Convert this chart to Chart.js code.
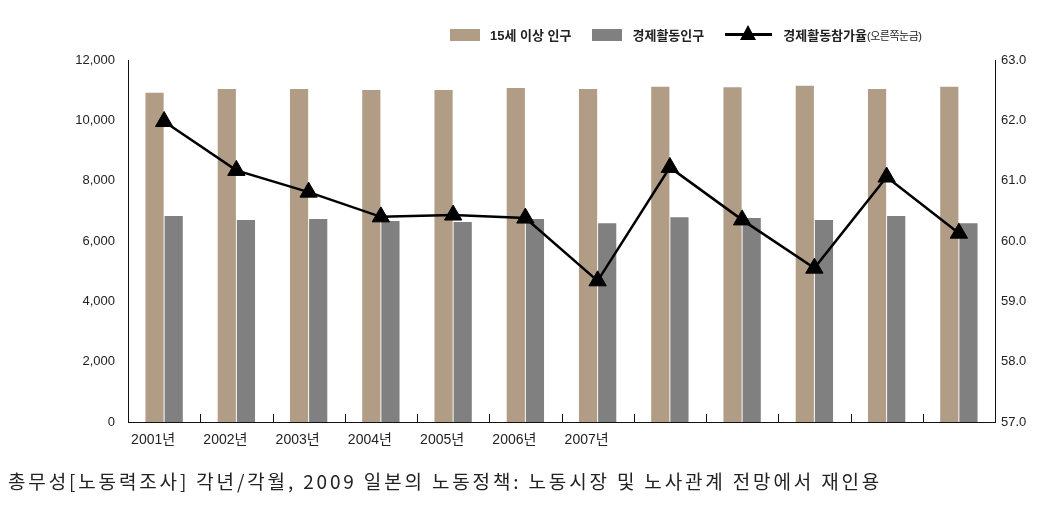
<!DOCTYPE html>
<html>
<head>
<meta charset="utf-8">
<script src="https://cdn.jsdelivr.net/npm/chart.js@4.4.0/dist/chart.umd.min.js"></script>
<style>
body { margin: 0; background: #fff; }
#wrap { position: relative; width: 1045px; height: 505px; }
#legend { position: absolute; top: 25px; left: 450px; display: flex; align-items: center;
  font: bold 13px "Liberation Sans", "Noto Sans CJK KR"; color: #222; }
#legend .box { width: 30px; height: 12px; margin-right: 10px; }
#legend .txt { margin-right: 21px; }
#legend .ln { position: relative; width: 47px; height: 3px; background: #000; margin-right: 11px; }
#legend .ln:after { content: ""; position: absolute; left: 15px; top: -8px;
  border-left: 8px solid transparent; border-right: 8px solid transparent; border-bottom: 15px solid #000; }
#legend small { font-size: 11px; font-weight: normal; letter-spacing: -0.5px; }
#source { position: absolute; left: 8px; top: 467px; font: 19px "Noto Sans CJK KR"; letter-spacing: 2.85px;
  color: #222; white-space: nowrap; }
</style>
</head>
<body>
<div id="wrap">
  <canvas id="mycanvas" width="1045" height="505"></canvas>
  <div id="legend"></div>
  <div id="source">총무성[노동력조사] 각년/각월, 2009 일본의 노동정책: 노동시장 및 노사관계 전망에서 재인용</div>
</div>
<script>
// 데이터
var years = ['2001년', '2002년', '2003년', '2004년', '2005년', '2006년', '2007년', '', '', '', '', ''];
var pop15 = [10916, 11038, 11038, 11005, 11005, 11071, 11038, 11115, 11095, 11148, 11038, 11115]; // 15세 이상 인구
var laborForce = [6829, 6696, 6729, 6663, 6630, 6729, 6586, 6785, 6762, 6696, 6829, 6586]; // 경제활동인구
var partRate = [61.98, 61.17, 60.81, 60.40, 60.43, 60.38, 59.34, 61.22, 60.35, 59.55, 61.06, 60.13]; // 경제활동참가율
var leftTicks = [0, 12000, 2000];
var rightTicks = [57, 63, 1];
var seriesNames = ['15세 이상 인구', '경제활동인구', '경제활동참가율'];

var tan = 'rgb(177,156,134)';
var gray = 'rgb(128,128,128)';

// 범례
var lg = document.getElementById('legend');
lg.innerHTML =
  '<span class="box" style="background:' + tan + '"></span><span class="txt">' + seriesNames[0] + '</span>' +
  '<span class="box" style="background:' + gray + '"></span><span class="txt">' + seriesNames[1] + '</span>' +
  '<span class="ln"></span><span>' + seriesNames[2] + '<small>(오른쪽눈금)</small></span>';

// x축 안쪽 눈금
var innerTicks = {
  id: 'innerTicks',
  afterDraw: function(chart) {
    var x = chart.scales.x, ctx = chart.ctx, bottom = chart.chartArea.bottom;
    ctx.save();
    ctx.strokeStyle = '#111';
    ctx.lineWidth = 1;
    for (var i = 1; i < years.length; i++) {
      var px = Math.round((x.getPixelForValue(i - 1) + x.getPixelForValue(i)) / 2) + 0.5;
      ctx.beginPath();
      ctx.moveTo(px, bottom);
      ctx.lineTo(px, bottom - 8);
      ctx.stroke();
    }
    ctx.restore();
  }
};

var tickFont = { family: '"Liberation Sans", "Noto Sans CJK KR"', size: 13 };

var chartdata = {
  labels: years,
  datasets: [
    {
      type: 'line',
      label: seriesNames[2],
      data: partRate,
      yAxisID: 'y1',
      borderColor: '#000',
      backgroundColor: '#000',
      borderWidth: 2.5,
      pointStyle: 'triangle',
      pointRadius: 10,
      pointBorderWidth: 1,
      tension: 0,
      order: 0
    },
    {
      type: 'bar',
      label: seriesNames[0],
      data: pop15,
      yAxisID: 'y',
      backgroundColor: tan,
      categoryPercentage: 0.53,
      barPercentage: 0.95,
      order: 1
    },
    {
      type: 'bar',
      label: seriesNames[1],
      data: laborForce,
      yAxisID: 'y',
      backgroundColor: gray,
      categoryPercentage: 0.53,
      barPercentage: 0.95,
      order: 1
    }
  ]
};

var ctx = document.getElementById('mycanvas');
var chart = new Chart(ctx, {
  data: chartdata,
  plugins: [innerTicks],
  options: {
    responsive: false,
    animation: false,
    layout: { padding: { top: 60, left: 0, right: 0, bottom: 0 } },
    plugins: { legend: { display: false }, tooltip: { enabled: false } },
    scales: {
      x: {
        offset: true,
        grid: { display: false, drawTicks: false },
        border: { color: '#111', width: 1 },
        ticks: { font: { family: tickFont.family, size: 14 }, color: '#222', padding: 10, maxRotation: 0, autoSkip: false, labelOffset: -11 },
        afterFit: function(s) { s.height = 83; }
      },
      y: {
        position: 'left',
        min: leftTicks[0], max: leftTicks[1],
        grid: { display: false, drawTicks: false },
        border: { color: '#111', width: 1 },
        ticks: {
          stepSize: leftTicks[2], font: tickFont, color: '#222', padding: 13,
          callback: function(v) { return v.toLocaleString('en-US'); }
        },
        afterFit: function(s) { s.width = 128; }
      },
      y1: {
        position: 'right',
        min: rightTicks[0], max: rightTicks[1],
        grid: { display: false, drawTicks: false },
        border: { color: '#111', width: 1 },
        ticks: {
          stepSize: rightTicks[2], font: tickFont, color: '#222', padding: 6,
          callback: function(v) { return v.toFixed(1); }
        },
        afterFit: function(s) { s.width = 50; }
      }
    }
  }
});
</script>
</body>
</html>
